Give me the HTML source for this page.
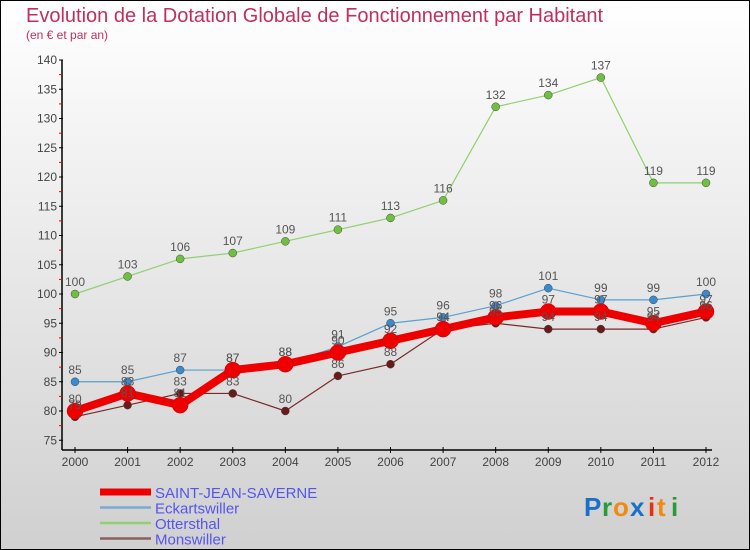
<!DOCTYPE html>
<html><head><meta charset="utf-8"><style>
body{margin:0}
#c{width:750px;height:550px;position:relative;box-sizing:border-box;border:1px solid #000;background:linear-gradient(#fff,#d0d0d0);overflow:hidden;font-family:"Liberation Sans",sans-serif}
</style></head><body>
<div id="c">
<svg id="s" width="750" height="550" style="position:absolute;left:-1px;top:-1px">
<text x="26" y="22" font-size="20" fill="#c0305a">Evolution de la Dotation Globale de Fonctionnement par Habitant</text>
<text x="26" y="39" font-size="12" fill="#c0305a">(en € et par an)</text>
<g id="axes"></g><g id="series"></g><g id="labels"></g>
<g id="legend"></g>
<g font-size="26" font-weight="bold" font-family="Liberation Sans,sans-serif">
<text x="584" y="516" fill="#1a70c8">P</text><text x="602" y="516" fill="#2a9a3a">r</text><text x="613" y="516" fill="#f08a10">o</text><text x="630" y="516" fill="#1a70c8">x</text><text x="648" y="516" fill="#e83010">i</text><text x="657" y="516" fill="#f08a10">t</text><text x="671" y="516" fill="#2a9a3a">i</text>
</g>
</svg>
</div>
<script>
const years=[2000,2001,2002,2003,2004,2005,2006,2007,2008,2009,2010,2011,2012];
const sjs=[80,83,81,87,88,90,92,94,96,97,97,95,97];
const eck=[85,85,87,87,88,91,95,96,98,101,99,99,100];
const ott=[100,103,106,107,109,111,113,116,132,134,137,119,119];
const mons=[79,81,83,83,80,86,88,94,95,94,94,94,96];
const yTicks=[75,80,85,90,95,100,105,110,115,120,125,130,135,140];
const names=["SAINT-JEAN-SAVERNE","Eckartswiller","Ottersthal","Monswiller"];
const NS="http://www.w3.org/2000/svg";
const X=i=>75+i*(706-75)/(years.length-1);
const Y=v=>294-(v-100)*5.85;
function mk(p,t,a){const e=document.createElementNS(NS,t);for(const k in a)e.setAttribute(k,a[k]);document.getElementById(p).appendChild(e);return e;}
let e=mk('axes','line',{x1:62,y1:60,x2:62,y2:450,stroke:'#000','stroke-width':1.5});

e=mk('axes','line',{x1:62,y1:450,x2:712,y2:450,stroke:'#000','stroke-width':1.5});

yTicks.forEach(v=>{const y=Y(v);
 mk('axes','line',{x1:59,y1:y,x2:63,y2:y,stroke:'#000'});
 if(v<140)mk('axes','line',{x1:59,y1:y-14.6,x2:62,y2:y-14.6,stroke:'#e00'});
 const t=mk('axes','text',{x:57,y:y+4,'font-size':12,'text-anchor':'end',fill:'#444'});t.textContent=v;
 });
years.forEach((yr,i)=>{const x=X(i);
 mk('axes','line',{x1:x,y1:447,x2:x,y2:453,stroke:'#000'});
 const t=mk('axes','text',{x:x,y:466,'font-size':12,'text-anchor':'middle',fill:'#444'});t.textContent=yr;
 });
const defs=[[mons,'#7a2a2a','#6a1a1a',1.2,4,'monswiller'],[ott,'#90d070','#70c040',1.2,4,'ottersthal'],[eck,'#5aa0d0','#3a8ad0',1.2,4,'eckartswiller'],[sjs,'#ee0000','#ee0000',8,8,'saint-jean-saverne']];
defs.forEach(([d,c,fc,w,r,n])=>{
 const l=mk('series','polyline',{points:d.map((v,i)=>X(i)+','+Y(v)).join(' '),fill:'none',stroke:c,'stroke-width':w,'stroke-linejoin':'round'});
 
 d.forEach((v,i)=>{const p=mk('series','circle',{cx:X(i),cy:Y(v),r:r,fill:fc,stroke:n=='saint-jean-saverne'?'#c00':'#444','stroke-width':0.5});
  
  const t=mk('labels','text',{x:X(i),y:Y(v)-8,'font-size':12,'text-anchor':'middle',fill:'#555'});t.textContent=v;
  });
});
const lc=['#ee0000','#7aaad0','#90d070','#8a6060'],lw=[7,2.5,2.5,2.5];
names.forEach((n,i)=>{const y=492+i*15.5;
 const l=mk('legend','line',{x1:100,y1:y,x2:151,y2:y,stroke:lc[i],'stroke-width':lw[i]});
 
 const t=mk('legend','text',{x:155,y:y+6,'font-size':15,fill:'#5555ee'});t.textContent=n;
 });
</script>
</body></html>
